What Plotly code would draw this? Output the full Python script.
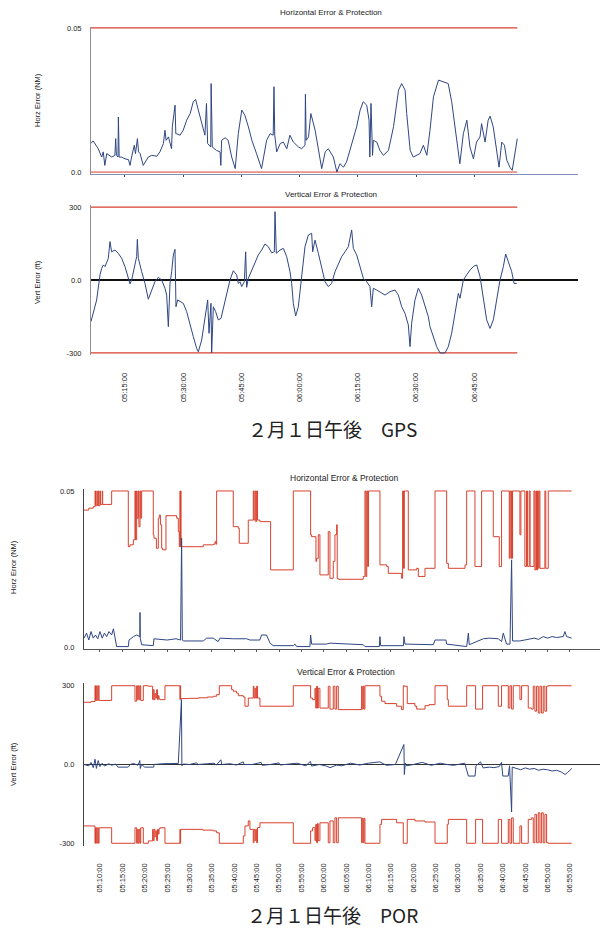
import plotly.graph_objects as go

W, H = 600, 934

# ---------------- tick labels (minutes after 05:00) ----------------
gps_tick_min = [15, 30, 45, 60, 75, 90, 105]
gps_tick_lab = ["05:15:00", "05:30:00", "05:45:00", "06:00:00", "06:15:00", "06:30:00", "06:45:00"]
por_tick_min = [10, 15, 20, 25, 30, 35, 40, 45, 50, 55, 60, 65, 70, 75, 80, 85, 90, 95, 100, 105, 110, 115]
por_tick_lab = ["05:10:00", "05:15:00", "05:20:00", "05:25:00", "05:30:00", "05:35:00", "05:40:00",
                "05:45:00", "05:50:00", "05:55:00", "06:00:00", "06:05:00", "06:10:00", "06:15:00",
                "06:20:00", "06:25:00", "06:30:00", "06:35:00", "06:40:00", "06:45:00", "06:50:00",
                "06:55:00"]

# ---------------- GPS : horizontal error (NM) ----------------
gps_h_t = [6.2, 6.8, 8.1, 9.0, 9.4, 9.8, 10.3, 11.1, 11.6, 12.4, 12.6, 12.8, 13.2, 13.3, 13.5, 14.1,
           15.0, 15.9, 16.3, 16.7, 17.4, 17.7, 18.2, 18.5, 18.9, 19.7, 21.0, 21.9, 23.2, 24.0, 24.9,
           25.3, 25.6, 26.2, 27.0, 27.2, 27.9, 28.1, 28.3, 29.2, 30.0, 30.9, 31.8, 32.6, 33.2, 33.9,
           34.8, 35.6, 36.0, 36.3, 37.1, 37.2, 37.5, 38.6, 39.5, 39.7, 39.9, 40.8, 41.6, 42.5, 43.4,
           44.2, 45.1, 45.9, 46.8, 47.7, 48.9, 50.2, 51.5, 52.4, 53.2, 53.4, 53.6, 54.1, 55.0, 55.8,
           56.7, 57.5, 58.4, 59.7, 60.5, 61.4, 61.5, 61.7, 62.3, 62.9, 64.0, 64.8, 65.7, 66.6, 67.4,
           68.7, 69.6, 70.4, 71.3, 72.1, 73.4, 74.7, 75.6, 76.4, 77.3, 77.9, 78.1, 78.4, 78.8, 79.0,
           79.9, 80.7, 81.6, 82.9, 84.2, 85.5, 86.3, 87.2, 87.6, 88.5, 89.3, 90.2, 91.0, 91.9, 92.8,
           93.6, 94.5, 95.8, 97.0, 98.3, 99.2, 100.1, 100.7, 101.3, 102.2, 103.1, 103.9, 104.8, 105.6,
           106.5, 106.9, 107.8, 108.6, 109.1, 109.9, 110.8, 111.4, 112.1, 112.8, 113.4, 114.2, 114.8,
           115.5, 116.1]
gps_h_v = [0.0099, 0.0108, 0.0081, 0.0052, 0.0070, 0.0023, 0.0064, 0.0058, 0.0052, 0.0058, 0.0116,
           0.0058, 0.0052, 0.0191, 0.0052, 0.0052, 0.0046, 0.0043, 0.0023, 0.0052, 0.0093, 0.0064,
           0.0116, 0.0070, 0.0064, 0.0023, 0.0052, 0.0058, 0.0055, 0.0070, 0.0099, 0.0145, 0.0110,
           0.0122, 0.0081, 0.0157, 0.0232, 0.0133, 0.0133, 0.0128, 0.0145, 0.0180, 0.0203, 0.0244,
           0.0252, 0.0215, 0.0168, 0.0128, 0.0238, 0.0099, 0.0087, 0.0307, 0.0087, 0.0075, 0.0070,
           0.0023, 0.0110, 0.0119, 0.0110, 0.0052, 0.0012, 0.0133, 0.0215, 0.0197, 0.0157, 0.0110,
           0.0064, 0.0012, 0.0110, 0.0133, 0.0128, 0.0296, 0.0128, 0.0070, 0.0099, 0.0104, 0.0081,
           0.0128, 0.0104, 0.0087, 0.0081, 0.0093, 0.0270, 0.0110, 0.0122, 0.0203, 0.0145, 0.0075,
           0.0012, 0.0070, 0.0081, 0.0052, 0.0000, 0.0029, 0.0017, 0.0035, 0.0099, 0.0157, 0.0215,
           0.0244, 0.0232, 0.0180, 0.0052, 0.0238, 0.0058, 0.0110, 0.0104, 0.0075, 0.0058, 0.0075,
           0.0157, 0.0284, 0.0307, 0.0284, 0.0203, 0.0075, 0.0052, 0.0058, 0.0064, 0.0093, 0.0058,
           0.0145, 0.0261, 0.0319, 0.0313, 0.0307, 0.0244, 0.0145, 0.0081, 0.0029, 0.0133, 0.0180,
           0.0087, 0.0046, 0.0104, 0.0122, 0.0168, 0.0104, 0.0180, 0.0194, 0.0157, 0.0064, 0.0017,
           0.0104, 0.0093, 0.0041, 0.0017, 0.0006, 0.0075, 0.0116]
gps_hpl_t = [6.24, 116.1]
gps_hpl_v = [0.05, 0.05]

# ---------------- GPS : vertical error (ft) ----------------
gps_v_t = [6.24, 6.84, 7.7, 8.56, 8.99, 9.42, 9.85, 10.7, 11.13, 11.56, 12.42, 13.28, 14.14, 15.0,
           15.86, 16.29, 16.72, 17.58, 18.01, 18.18, 18.44, 19.3, 20.15, 21.01, 21.87, 22.73, 23.59,
           24.45, 25.31, 25.74, 26.17, 26.6, 27.03, 27.46, 27.89, 28.14, 28.57, 29.18, 30.03, 30.89,
           31.75, 32.61, 33.47, 33.9, 34.76, 35.62, 36.31, 36.65, 37.16, 37.34, 37.77, 38.37, 39.05,
           39.74, 40.34, 41.2, 42.06, 42.92, 43.78, 44.21, 44.64, 45.07, 45.76, 46.1, 46.36, 46.79,
           47.65, 48.5, 49.36, 50.22, 51.08, 51.94, 52.8, 53.49, 53.66, 54.0, 54.95, 55.81, 56.67,
           57.53, 57.96, 58.38, 58.99, 59.67, 60.53, 61.39, 62.25, 63.11, 63.37, 63.97, 64.83, 65.69,
           66.55, 67.41, 68.26, 69.12, 69.98, 70.84, 71.7, 72.56, 73.42, 73.85, 74.71, 75.57, 76.43,
           77.29, 78.14, 78.57, 79.0, 79.86, 81.15, 82.01, 83.3, 84.59, 85.45, 86.31, 87.16, 88.02,
           88.45, 88.88, 89.74, 90.6, 91.46, 92.32, 93.18, 93.61, 94.47, 95.33, 96.19, 97.47, 98.33,
           99.19, 100.05, 100.91, 101.34, 102.2, 103.06, 103.92, 104.78, 105.64, 106.5, 107.35,
           108.21, 109.07, 109.93, 110.79, 111.65, 112.51, 113.11, 113.8, 114.66, 115.26, 115.95]
gps_v_v = [-171, -137, -82, 21, 48, 62, 55, 89, 158, 116, 123, 110, 89, 55, 7, -16, 0, 68, 96, 167,
           89, 34, -14, -79, -41, -7, 11, 0, -34, -62, -192, -14, 34, 103, 126, -110, -82, -89, -96,
           -130, -185, -233, -281, -295, -247, -151, -82, -219, -96, -299, -110, -130, -164, -158,
           -116, -68, 0, 38, 21, -14, -7, -27, -7, 116, -30, 7, 41, 68, 103, 123, 148, 137, 112, 116,
           281, 110, 123, 130, 96, 34, -14, -96, -148, -110, 27, 137, 185, 192, 116, 164, 110, 48, -7,
           -27, -14, 34, 68, 96, 116, 137, 206, 130, 103, 55, 7, -7, -27, -110, -34, -41, -55, -62,
           -48, -41, -62, -110, -137, -185, -274, -178, -82, -34, -62, -103, -151, -192, -233, -274,
           -300, -300, -274, -219, -137, -55, -75, 0, 21, 41, 55, 62, 14, -82, -164, -199, -164, -82,
           0, 55, 107, 75, 34, -14, -14]
gps_vpl_t = [6.24, 116.1]
gps_vpl_up = [300, 300]
gps_vpl_lo = [-300, -300]

# ---------------- POR : horizontal protection (NM), step ----------------
por_hpl_t = [6.43, 7.5, 8.5, 8.9, 9.0, 9.3, 9.4, 9.63, 9.75, 10.0, 10.1, 10.5, 10.6, 12.61, 16.33,
             16.7, 17.45, 17.82, 17.95, 18.19, 18.3, 18.56, 18.7, 18.94, 19.1, 19.31, 21.91, 22.06,
             22.6, 23.03, 23.25, 23.5, 23.78, 24.0, 24.74, 27.13, 27.5, 27.72, 27.87, 27.95, 28.02,
             28.1, 33.08, 35.32, 35.69, 35.91, 36.06, 39.78, 40.9, 41.12, 43.13, 44.25, 44.4, 44.62,
             44.8, 45.0, 45.2, 45.74, 48.12, 53.19, 57.06, 57.28, 58.25, 58.4, 58.77, 59.14, 61.0,
             61.38, 62.12, 62.49, 62.87, 63.0, 63.24, 68.82, 69.2, 69.4, 69.6, 69.8, 70.0, 72.55,
             74.04, 74.41, 77.39, 77.61, 77.8, 78.0, 78.88, 80.75, 81.12, 82.61, 84.85, 87.45, 87.83,
             91.55, 91.92, 93.77, 95.26, 97.87, 99.2, 99.72, 101.44, 101.59, 101.81, 101.96, 102.1,
             102.18, 103.82, 104.04, 104.93, 105.3, 105.5, 105.9, 106.1, 106.95, 107.17, 107.4,
             107.54, 107.75, 107.92, 108.1, 108.29, 109.4, 109.6, 110.15, 115.37]
por_hpl_v = [0.0439, 0.0445, 0.0450, 0.05, 0.0453, 0.05, 0.0453, 0.05, 0.0453, 0.05, 0.0457, 0.05,
             0.0457, 0.05, 0.0322, 0.0328, 0.0344, 0.05, 0.0344, 0.05, 0.0413, 0.05, 0.0386, 0.05,
             0.0413, 0.05, 0.0360, 0.0349, 0.0317, 0.0413, 0.0423, 0.0392, 0.0317, 0.0312, 0.0421,
             0.0413, 0.0370, 0.0322, 0.05, 0.0322, 0.05, 0.0322, 0.0328, 0.0330, 0.0338, 0.0330, 0.05,
             0.0386, 0.0381, 0.0333, 0.0407, 0.05, 0.0407, 0.05, 0.0402, 0.05, 0.0407, 0.0402, 0.0248,
             0.05, 0.0360, 0.0354, 0.0275, 0.0285, 0.0360, 0.0232, 0.0370, 0.0221, 0.0275, 0.0360,
             0.0392, 0.0221, 0.0218, 0.0227, 0.05, 0.0227, 0.05, 0.0259, 0.05, 0.0264, 0.0259, 0.0237,
             0.0221, 0.05, 0.0253, 0.05, 0.0248, 0.0253, 0.0227, 0.0253, 0.05, 0.0269, 0.0253, 0.0264,
             0.05, 0.0259, 0.05, 0.0354, 0.0259, 0.05, 0.0285, 0.05, 0.0285, 0.05, 0.0285, 0.05,
             0.0360, 0.05, 0.0259, 0.05, 0.0259, 0.05, 0.0259, 0.05, 0.0248, 0.05, 0.0248, 0.05,
             0.0253, 0.05, 0.0253, 0.05, 0.0253, 0.05, 0.05]

# ---------------- POR : horizontal error (NM) ----------------
por_h_t = [6.43, 7.0, 7.5, 8.0, 8.5, 9.0, 9.5, 10.0, 10.5, 11.0, 11.5, 12.0, 12.6, 13.0, 13.72,
           16.33, 16.5, 17.0, 17.5, 18.2, 18.9, 18.94, 19.0, 19.31, 21.91, 22.06, 25.0, 27.0, 28.0,
           28.24, 28.4, 28.61, 33.08, 33.83, 35.3, 36.4, 36.8, 39.78, 42.76, 43.5, 45.7, 46.1, 47.2,
           48.0, 48.7, 53.2, 53.56, 53.93, 56.91, 57.06, 57.28, 60.63, 61.38, 68.82, 69.2, 72.4,
           72.55, 72.7, 77.8, 77.91, 78.14, 84.47, 84.85, 87.3, 87.45, 91.92, 92.3, 92.5, 94.14,
           95.63, 97.0, 98.99, 99.72, 100.1, 100.84, 101.6, 101.96, 102.18, 103.8, 104.9, 106.05,
           107.0, 108.0, 109.03, 110.0, 111.0, 112.0, 113.5, 113.87, 114.25, 115.37]
por_h_v = [0.0030, 0.0046, 0.0024, 0.0051, 0.0030, 0.0040, 0.0028, 0.0051, 0.0030, 0.0046, 0.0035,
           0.0051, 0.0040, 0.0060, 0.0003, 0.0003, 0.0024, 0.0030, 0.0035, 0.0040, 0.0035, 0.0112,
           0.0030, 0.0009, 0.0006, 0.0028, 0.0024, 0.0028, 0.0024, 0.0349, 0.0024, 0.0021, 0.0021,
           0.0030, 0.0030, 0.0019, 0.0030, 0.0028, 0.0028, 0.0024, 0.0024, 0.0040, 0.0040, 0.0014,
           0.0006, 0.0006, 0.0011, 0.0003, 0.0003, 0.0040, 0.0011, 0.0011, 0.0014, 0.0009, 0.0003,
           0.0003, 0.0035, 0.0006, 0.0006, 0.0035, 0.0011, 0.0009, 0.0024, 0.0024, 0.0011, 0.0003,
           0.0046, 0.0009, 0.0019, 0.0028, 0.0030, 0.0028, 0.0019, 0.0046, 0.0011, 0.0011, 0.0280,
           0.0021, 0.0021, 0.0024, 0.0028, 0.0030, 0.0026, 0.0035, 0.0030, 0.0035, 0.0032, 0.0035,
           0.0051, 0.0035, 0.0030]

# ---------------- POR : vertical protection (ft), step ----------------
por_vpl_up_t = [6.45, 8.0, 8.88, 9.0, 9.26, 9.4, 9.63, 9.8, 10.0, 12.61, 17.82, 18.19, 18.35, 18.56,
                18.75, 18.94, 19.1, 19.68, 20.8, 21.76, 21.91, 22.1, 22.29, 22.5, 22.66, 22.85, 23.03,
                23.2, 23.4, 24.52, 27.87, 27.95, 28.02, 28.09, 30.0, 32.0, 34.0, 35.32, 36.06, 36.66,
                39.41, 39.78, 40.5, 40.9, 42.02, 42.39, 43.13, 44.25, 44.4, 44.62, 44.8, 45.0, 45.2,
                45.74, 53.19, 57.06, 57.5, 58.03, 58.2, 58.4, 58.6, 58.77, 59.14, 61.0, 61.38, 62.12,
                62.49, 62.87, 63.24, 68.45, 68.6, 68.82, 69.0, 69.2, 72.55, 72.92, 73.67, 76.27,
                77.39, 77.76, 78.0, 78.65, 80.37, 80.75, 82.61, 83.5, 84.85, 87.59, 87.83, 91.92,
                93.92, 95.48, 98.99, 99.72, 101.22, 101.59, 101.96, 102.33, 103.82, 104.19, 105.68,
                106.43, 106.8, 107.17, 107.54, 107.92, 108.29, 108.66, 109.03, 109.4, 109.78, 110.15,
                115.37]
por_vpl_up_v = [237, 240, 300, 244, 300, 244, 300, 244, 244, 300, 241, 300, 247, 300, 247, 300, 244,
                300, 298, 247, 285, 247, 270, 253, 285, 247, 262, 250, 247, 300, 247, 300, 250, 251,
                252, 254, 257, 260, 266, 300, 285, 279, 272, 262, 257, 222, 253, 298, 253, 290, 253,
                298, 253, 222, 300, 253, 247, 290, 215, 298, 215, 290, 215, 298, 211, 298, 211, 298,
                209, 298, 211, 298, 211, 300, 260, 241, 232, 222, 209, 300, 298, 232, 222, 211, 224,
                228, 300, 247, 222, 300, 211, 300, 222, 300, 215, 300, 211, 300, 247, 300, 215, 211,
                298, 203, 298, 196, 298, 196, 298, 203, 298, 300, 300]
por_vpl_lo_t = [6.45, 8.88, 9.0, 9.26, 9.4, 9.63, 9.8, 10.0, 12.61, 17.82, 18.19, 18.35, 18.56, 18.75,
                18.94, 19.1, 19.68, 20.8, 21.76, 21.91, 22.1, 22.29, 22.5, 22.66, 22.85, 23.03, 23.2,
                23.4, 24.52, 27.87, 27.95, 28.02, 28.09, 33.0, 35.32, 36.06, 36.66, 42.02, 42.39,
                43.13, 43.5, 44.25, 44.4, 44.62, 44.8, 45.0, 45.2, 45.74, 53.19, 57.06, 57.5, 58.03,
                58.2, 58.4, 58.6, 58.77, 59.14, 61.0, 61.38, 62.12, 62.49, 62.87, 63.24, 68.45, 68.6,
                68.82, 69.0, 69.2, 72.55, 72.92, 76.27, 77.76, 78.65, 80.37, 82.61, 84.85, 87.59,
                87.83, 91.92, 93.92, 95.48, 98.99, 99.72, 101.22, 101.59, 101.96, 102.33, 103.82,
                104.19, 105.68, 106.43, 106.8, 107.17, 107.54, 107.92, 108.29, 108.66, 109.03, 109.4,
                109.78, 110.15, 115.37]
por_vpl_lo_v = [-234, -300, -241, -300, -241, -300, -241, -241, -300, -241, -300, -247, -300, -247,
                -300, -241, -300, -291, -247, -290, -247, -275, -253, -290, -247, -265, -245, -241,
                -300, -247, -300, -247, -247, -250, -253, -260, -300, -272, -234, -215, -247, -298,
                -247, -290, -247, -298, -240, -222, -300, -253, -241, -290, -228, -298, -225, -290,
                -222, -298, -215, -298, -203, -298, -203, -298, -205, -298, -205, -300, -228, -209,
                -222, -300, -209, -215, -219, -300, -228, -209, -300, -209, -300, -209, -300, -209,
                -300, -203, -300, -234, -300, -209, -203, -298, -190, -298, -184, -298, -184, -298,
                -190, -298, -300, -300]

# ---------------- POR : vertical error (ft) ----------------
por_v_t = [6.43, 7.5, 8.0, 8.5, 8.9, 9.2, 9.6, 10.0, 10.5, 11.0, 12.0, 12.6, 13.5, 14.0, 16.3, 16.8,
           17.5, 18.5, 18.9, 19.0, 19.3, 20.0, 22.0, 22.1, 24.0, 26.0, 27.5, 28.2, 28.3, 28.6, 30.0,
           31.5, 32.0, 34.0, 35.5, 36.0, 37.0, 37.2, 39.0, 40.5, 42.0, 42.2, 44.0, 46.0, 46.2, 48.0,
           50.0, 50.2, 52.0, 54.0, 56.0, 57.0, 57.3, 59.0, 60.6, 61.4, 62.9, 64.0, 66.0, 68.0, 70.0,
           72.5, 74.0, 76.0, 77.9, 78.0, 78.2, 78.5, 80.0, 82.0, 84.0, 86.0, 87.5, 89.0, 91.5, 92.3,
           93.8, 94.0, 95.0, 95.6, 97.0, 98.0, 99.2, 99.7, 100.0, 101.2, 101.5, 101.96, 102.1, 103.0,
           104.0, 105.0, 106.0, 107.0, 108.0, 109.0, 110.0, 111.0, 112.0, 113.0, 113.9, 114.5, 115.4]
por_v_v = [0, -5, 8, -12, 20, -15, 15, -8, 5, -6, 3, -3, 2, -10, -10, 0, 4, -3, 15, -15, 0, -10, -10,
           0, 3, 5, 4, 247, -5, 2, 0, 6, 0, 3, 5, -2, 18, 0, 3, -2, 10, 0, 0, 8, -3, 0, 6, -2, 2, 5,
           -5, 12, -6, 0, -6, -12, -2, -5, 5, -2, 5, 10, -3, 0, 76, -38, 5, -5, 0, 8, -3, 5, 0, -3,
           5, -44, -44, -5, 10, -13, -10, -12, -8, 8, -44, -44, -5, -181, -10, -15, -20, -13, -18,
           -15, -22, -18, -20, -25, -22, -28, -38, -30, -15]

# ---------------- styling ----------------
RED = "#d8412e"
BLUE = "#2f4682"
FONT = "Liberation Sans, Arial, sans-serif"
CJK = "Noto Sans CJK JP, Noto Sans CJK SC, sans-serif"


def py(p):
    return 1 - p / H


fig = go.Figure()
# GPS horizontal (x/y)
fig.add_trace(go.Scatter(x=gps_hpl_t, y=[0, 0], mode="lines", line=dict(color=RED, width=1),
                         xaxis="x", yaxis="y", hoverinfo="skip"))
fig.add_trace(go.Scatter(x=gps_hpl_t, y=gps_hpl_v, mode="lines", line=dict(color=RED, width=1.2),
                         xaxis="x", yaxis="y"))
fig.add_trace(go.Scatter(x=gps_h_t, y=gps_h_v, mode="lines", line=dict(color=BLUE, width=1),
                         xaxis="x", yaxis="y"))
# GPS vertical (x2/y2)
fig.add_trace(go.Scatter(x=gps_vpl_t, y=gps_vpl_up, mode="lines", line=dict(color=RED, width=1.2),
                         xaxis="x2", yaxis="y2"))
fig.add_trace(go.Scatter(x=gps_vpl_t, y=gps_vpl_lo, mode="lines", line=dict(color=RED, width=1.2),
                         xaxis="x2", yaxis="y2"))
fig.add_trace(go.Scatter(x=gps_v_t, y=gps_v_v, mode="lines", line=dict(color=BLUE, width=1),
                         xaxis="x2", yaxis="y2"))
# POR horizontal (x3/y3)
fig.add_trace(go.Scatter(x=por_hpl_t, y=por_hpl_v, mode="lines", line=dict(color=RED, width=1, shape="hv"),
                         xaxis="x3", yaxis="y3"))
fig.add_trace(go.Scatter(x=por_h_t, y=por_h_v, mode="lines", line=dict(color=BLUE, width=1),
                         xaxis="x3", yaxis="y3"))
# POR vertical (x4/y4)
fig.add_trace(go.Scatter(x=por_vpl_up_t, y=por_vpl_up_v, mode="lines",
                         line=dict(color=RED, width=1, shape="hv"), xaxis="x4", yaxis="y4"))
fig.add_trace(go.Scatter(x=por_vpl_lo_t, y=por_vpl_lo_v, mode="lines",
                         line=dict(color=RED, width=1, shape="hv"), xaxis="x4", yaxis="y4"))
fig.add_trace(go.Scatter(x=por_v_t, y=por_v_v, mode="lines", line=dict(color=BLUE, width=1),
                         xaxis="x4", yaxis="y4"))

gps_xdom = [91 / W, 578 / W]
por_xdom = [84 / W, 1.0]
gps_xr = [6.24, 131.75]
por_xr = [6.43, 121.71]

tickfont = dict(family=FONT, size=7.5, color="#222")

common_x = dict(showgrid=False, zeroline=False, automargin=False, fixedrange=True)
common_y = dict(showgrid=False, automargin=False, fixedrange=True, showline=True, linewidth=1,
                ticks="", tickfont=tickfont, ticklabelstandoff=7)

fig.update_layout(
    width=W, height=H, margin=dict(l=0, r=0, t=0, b=0), autosize=False,
    paper_bgcolor="white", plot_bgcolor="white", showlegend=False,
    font=dict(family=FONT, color="#222"),
    xaxis=dict(domain=gps_xdom, range=gps_xr, anchor="y", showline=True, linecolor="#8090b8",
               linewidth=1, tickvals=gps_tick_min, ticks="outside", ticklen=2, tickcolor="#444",
               showticklabels=False, **common_x),
    yaxis=dict(domain=[py(173.5), py(26.5)], range=[-0.0005, 0.0505], anchor="x",
               tickvals=[0, 0.05], ticktext=["0.0", "0.05"], linecolor="#909090", zeroline=False,
               **common_y),
    xaxis2=dict(domain=gps_xdom, range=gps_xr, anchor="y2", showline=False, tickvals=gps_tick_min,
                ticktext=gps_tick_lab, tickangle=-90, ticks="", tickfont=tickfont,
                ticklabelstandoff=15, **common_x),
    yaxis2=dict(domain=[py(355.4), py(204.6)], range=[-310, 310], anchor="x2",
                tickvals=[-300, 0, 300], ticktext=["-300", "0.0", "300"], linecolor="#909090",
                zeroline=True, zerolinecolor="#111", zerolinewidth=1.3, **common_y),
    xaxis3=dict(domain=por_xdom, range=por_xr, anchor="y3", showline=True, linecolor="#555",
                linewidth=1, tickvals=por_tick_min, ticks="outside", ticklen=2, tickcolor="#555",
                showticklabels=False, **common_x),
    yaxis3=dict(domain=[py(649.1), py(489.4)], range=[-0.0005, 0.0505], anchor="x3",
                tickvals=[0, 0.05], ticktext=["0.0", "0.05"], linecolor="#444", zeroline=False,
                **common_y),
    xaxis4=dict(domain=por_xdom, range=por_xr, anchor="y4", showline=False, tickvals=por_tick_min,
                ticktext=por_tick_lab, tickangle=-90, ticks="", tickfont=tickfont,
                ticklabelstandoff=15, **common_x),
    yaxis4=dict(domain=[py(845.9), py(683.1)], range=[-310, 310], anchor="x4",
                tickvals=[-300, 0, 300], ticktext=["-300", "0.0", "300"], linecolor="#444",
                zeroline=True, zerolinecolor="#333", zerolinewidth=1.2, **common_y),
)

ann = []


def add_text(text, x, y, size, angle=0, family=FONT):
    ann.append(dict(text=text, x=x / W, y=py(y), xref="paper", yref="paper", showarrow=False,
                    xanchor="center", yanchor="middle", textangle=angle,
                    font=dict(family=family, size=size, color="#222")))


add_text("Horizontal Error &amp; Protection", 331, 13, 8)
add_text("Vertical Error &amp; Protection", 331, 194, 8)
add_text("Horz Error (NM)", 37, 100, 7.5, -90)
add_text("Vert Error (ft)", 37, 282, 7.5, -90)
add_text("２月１日午後　GPS", 332, 428, 19, family=CJK)

add_text("Horizontal Error &amp; Protection", 344, 478, 8.5)
add_text("Vertical Error &amp; Protection", 346, 672, 8.5)
add_text("Horz Error (NM)", 13, 567, 7.5, -90)
add_text("Vert Error (ft)", 13, 764, 7.5, -90)
add_text("２月１日午後　POR", 332, 914, 19, family=CJK)

fig.update_layout(annotations=ann)

fig.write_html("out.html",
               config={"displayModeBar": False, "staticPlot": True},
               post_script="document.body.style.margin='0';document.body.style.padding='0';"
                           "document.documentElement.style.overflow='hidden';")
